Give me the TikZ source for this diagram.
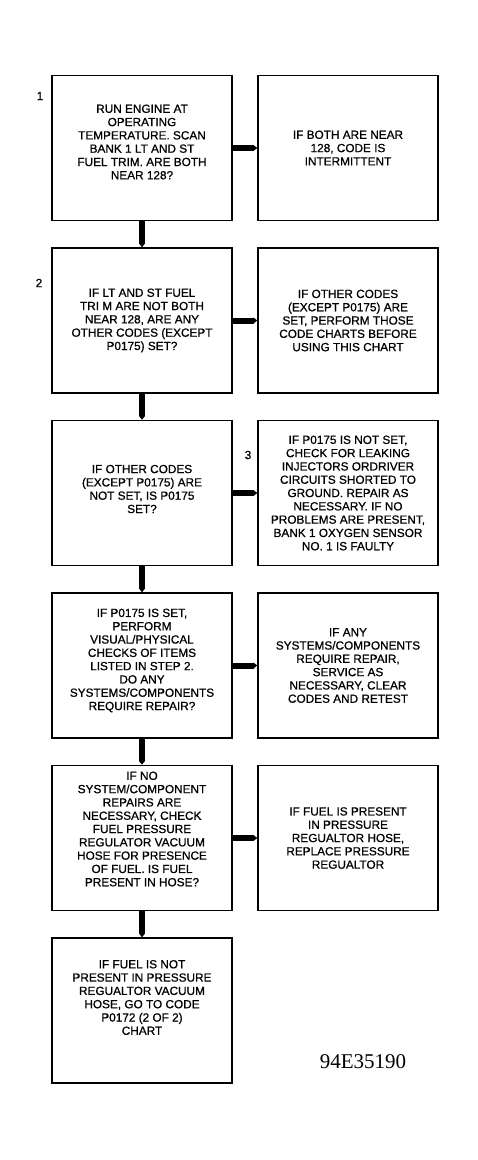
\documentclass[tikz,border=0pt]{standalone}
\usepackage{fontspec}
\setmainfont{Liberation Sans}[FakeBold=0.8]
\newfontfamily\figfont{Liberation Serif}
\usetikzlibrary{arrows.meta, positioning}

\begin{document}
\begin{tikzpicture}[
    x             = 1pt,
    y             = -1pt,
    node distance = 26pt and 24.5pt,
    font          = \fontsize{11.8}{13.3}\selectfont,
    box/.style    = {draw, line width=1.5pt, minimum width=180pt,
                     minimum height=145pt, inner sep=0pt},
    txt/.style    = {align=center, inner sep=0pt},
    conn/.style   = {line width=6pt, -{Triangle[length=4pt, width=0pt 1]}},
    stepno/.style = {inner sep=0pt},
  ]
  \useasboundingbox (0,0) rectangle (477,1160);
  % left column: questions
  \node[box] (q1) at (142,148) {};
  \node[box, below=of q1] (q2) {};
  \node[box, below=of q2] (q3) {};
  \node[box, below=of q3] (q4) {};
  \node[box, below=of q4] (q5) {};
  \node[box, below=of q5] (q6) {};
  % right column: results
  \node[box, right=of q1] (r1) {};
  \node[box, right=of q2] (r2) {};
  \node[box, right=of q3] (r3) {};
  \node[box, right=of q4] (r4) {};
  \node[box, right=of q5] (r5) {};
  % texts
  \node[txt, yshift=6pt] (q1t) at (q1) {RUN ENGINE AT\\OPERATING\\TEMPERATURE. SCAN\\BANK 1 LT AND ST\\FUEL TRIM. ARE BOTH\\NEAR 128?};
  \node[txt] (q2t) at (q2) {IF LT AND ST FUEL\\TRI M ARE NOT BOTH\\NEAR 128, ARE ANY\\OTHER CODES (EXCEPT\\P0175) SET?};
  \node[txt, yshift=4pt] (q3t) at (q3) {IF OTHER CODES\\(EXCEPT P0175) ARE\\NOT SET, IS P0175\\SET?};
  \node[txt, yshift=5pt] (q4t) at (q4) {IF P0175 IS SET,\\PERFORM\\VISUAL/PHYSICAL\\CHECKS OF ITEMS\\LISTED IN STEP 2.\\DO ANY\\SYSTEMS/COMPONENTS\\REQUIRE REPAIR?};
  \node[txt, yshift=9pt] (q5t) at (q5) {IF NO\\SYSTEM/COMPONENT\\REPAIRS ARE\\NECESSARY, CHECK\\FUEL PRESSURE\\REGULATOR VACUUM\\HOSE FOR PRESENCE\\OF FUEL. IS FUEL\\PRESENT IN HOSE?};
  \node[txt, yshift=13pt] (q6t) at (q6) {IF FUEL IS NOT\\PRESENT IN PRESSURE\\REGUALTOR VACUUM\\HOSE, GO TO CODE\\P0172 (2 OF 2)\\CHART};
  \node[txt] (r1t) at (r1) {IF BOTH ARE NEAR\\128, CODE IS\\INTERMITTENT};
  \node[txt] (r2t) at (r2) {IF OTHER CODES\\(EXCEPT P0175) ARE\\SET, PERFORM THOSE\\CODE CHARTS BEFORE\\USING THIS CHART};
  \node[txt] (r3t) at (r3) {IF P0175 IS NOT SET,\\CHECK FOR LEAKING\\INJECTORS ORDRIVER\\CIRCUITS SHORTED TO\\GROUND. REPAIR AS\\NECESSARY. IF NO\\PROBLEMS ARE PRESENT,\\BANK 1 OXYGEN SENSOR\\NO. 1 IS FAULTY};
  \node[txt] (r4t) at (r4) {IF ANY\\SYSTEMS/COMPONENTS\\REQUIRE REPAIR,\\SERVICE AS\\NECESSARY, CLEAR\\CODES AND RETEST};
  \node[txt] (r5t) at (r5) {IF FUEL IS PRESENT\\IN PRESSURE\\REGUALTOR HOSE,\\REPLACE PRESSURE\\REGUALTOR};
  % step numbers
  \node[stepno] (s1) at (40,96) {1};
  \node[stepno] (s2) at (39,283) {2};
  \node[stepno] (s3) at (248,455) {3};
  % connectors
  \foreach \a/\b in {q1/q2, q2/q3, q3/q4, q4/q5, q5/q6}
    \draw[conn] (\a) -- (\b);
  \foreach \i in {1,...,5}
    \draw[conn] (q\i) -- (r\i);
  \node[font=\figfont\fontsize{21}{24}\selectfont] (fig) at (363,1062) {94E35190};
\end{tikzpicture}
\end{document}
